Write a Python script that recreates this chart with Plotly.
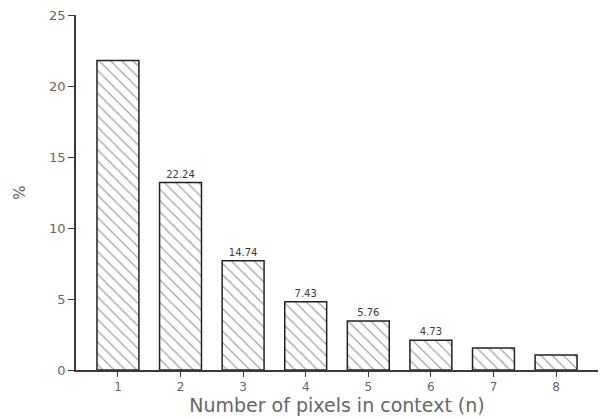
import plotly.graph_objects as go

categories = [1, 2, 3, 4, 5, 6, 7, 8]
percent = [21.8, 13.2, 7.7, 4.8, 3.45, 2.1, 1.55, 1.05]
bar_labels = ["", "22.24", "14.74", "7.43", "5.76", "4.73", "", ""]
y_ticks = [0, 5, 10, 15, 20, 25]

ink = "#3a3a3a"
font_family = "DejaVu Sans"

fig = go.Figure(
    go.Bar(
        x=categories,
        y=percent,
        width=0.67,
        text=bar_labels,
        textposition="outside",
        textfont=dict(size=10, color=ink, family=font_family),
        cliponaxis=False,
        marker=dict(
            color="white",
            line=dict(color="#222222", width=1.5),
            pattern=dict(shape="\\", fgcolor="#444444", bgcolor="white", size=8, solidity=0.15),
        ),
    )
)

fig.update_layout(
    width=606,
    height=419,
    margin=dict(l=76, r=8, t=15, b=49),
    paper_bgcolor="white",
    plot_bgcolor="white",
    showlegend=False,
    font=dict(family=font_family, color=ink),
)

fig.update_xaxes(
    range=[0.33, 8.67],
    tickmode="array",
    tickvals=categories,
    ticktext=[str(c) for c in categories],
    ticks="outside",
    ticklen=5,
    tickcolor=ink,
    showline=True,
    linecolor=ink,
    linewidth=1.5,
    showgrid=False,
    zeroline=False,
    tickfont=dict(size=12, color="#666666"),
    title=dict(text="Number of pixels in context (n)", font=dict(size=19, color="#666666"), standoff=4),
)

fig.update_yaxes(
    range=[0, 25],
    tickmode="array",
    tickvals=y_ticks,
    ticks="outside",
    ticklen=6,
    tickcolor=ink,
    showline=True,
    linecolor=ink,
    linewidth=1.5,
    showgrid=False,
    zeroline=False,
    tickfont=dict(size=13, color="#666666"),
    title=dict(text="%", font=dict(size=15, color="#666666"), standoff=20),
)

fig.write_html(
    "out.html",
    config={"displayModeBar": False},
    post_script="document.body.style.margin='0';",
)
